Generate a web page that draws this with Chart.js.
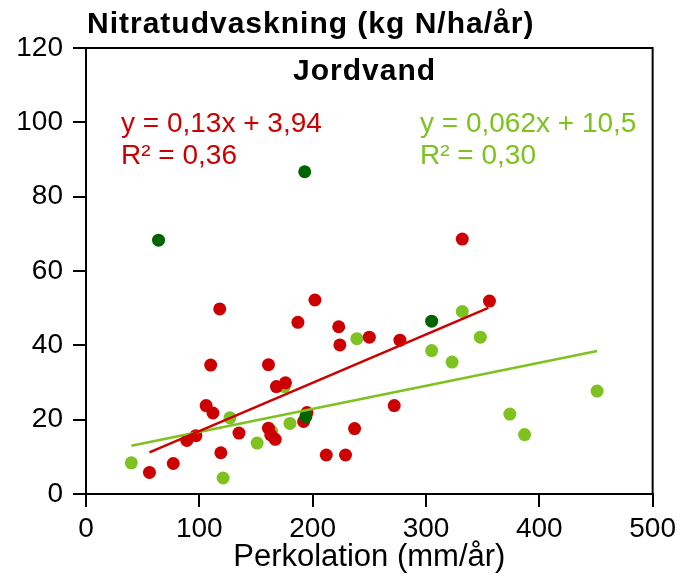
<!DOCTYPE html>
<html>
<head>
<meta charset="utf-8">
<script src="https://cdn.jsdelivr.net/npm/chart.js@4"></script>
<style>
  html, body { margin: 0; padding: 0; background: #fff; }
  #wrap { width: 681px; height: 576px; }
</style>
</head>
<body>
<div id="wrap"><canvas id="c" width="681" height="576"></canvas></div>
<script>
// values (x = perkolation mm/år, y = kg N/ha/år)
const redX = [118, 202, 187, 223, 224, 250, 110, 161, 168, 176, 106, 112, 195, 192, 89, 97, 135, 161, 163, 167, 119, 77, 56, 212, 229, 237, 277, 356, 272, 332];
const redY = [49.8, 52.2, 46.2, 45, 40.1, 42.2, 34.7, 34.8, 28.9, 29.9, 23.8, 21.8, 21.9, 19.5, 14.4, 15.7, 16.4, 17.7, 15.9, 14.7, 11.1, 8.2, 5.8, 10.5, 10.5, 17.6, 41.4, 51.9, 23.8, 68.6];

const lightX = [40, 121, 127, 151, 180, 164, 175, 239, 332, 348, 305, 323, 451, 374, 387];
const lightY = [8.4, 4.3, 20.5, 13.7, 19, 16.8, 28.9, 41.8, 49.1, 42.2, 38.6, 35.5, 27.7, 21.5, 16];

const darkX = [305, 194, 193, 64];
const darkY = [46.5, 20.8, 86.7, 68.3];

// trend line end points
const redTrendX = [56, 355];
const redTrendY = [11.2, 50.1];
const lightTrendX = [40, 451];
const lightTrendY = [13, 38.5];

const xTicks = [0, 100, 200, 300, 400, 500];
const yTicks = [0, 20, 40, 60, 80, 100, 120];

const RED = '#CC0000';
const LIGHT = '#7DC21E';
const DARK = '#006400';
const FONT = '"Liberation Sans", Arial, sans-serif';

function pts(xs, ys) {
  return xs.map((x, i) => ({ x: x, y: ys[i] }));
}

// text labels and the box round the plot
const extras = {
  id: 'extras',
  afterDraw(chart) {
    const ctx = chart.ctx;
    const a = chart.chartArea;
    ctx.save();
    ctx.strokeStyle = '#000';
    ctx.lineWidth = 2;
    ctx.strokeRect(a.left, a.top, a.right - a.left, a.bottom - a.top);

    ctx.textBaseline = 'alphabetic';
    ctx.fillStyle = '#000';
    ctx.font = 'bold 30px ' + FONT;
    ctx.letterSpacing = '1px';
    ctx.textAlign = 'left';
    ctx.fillText('Nitratudvaskning (kg N/ha/år)', 87, 33);
    ctx.fillText('Jordvand', 293, 80);
    ctx.letterSpacing = '0px';

    ctx.font = '28px ' + FONT;
    ctx.fillStyle = RED;
    ctx.fillText('y = 0,13x + 3,94', 121, 132);
    ctx.fillText('R² = 0,36', 121, 164);
    ctx.fillStyle = LIGHT;
    ctx.fillText('y = 0,062x + 10,5', 420, 132);
    ctx.fillText('R² = 0,30', 420, 164);
    ctx.restore();
  }
};

new Chart(document.getElementById('c'), {
  type: 'scatter',
  data: {
    datasets: [
      {
        data: pts(redTrendX, redTrendY),
        showLine: true,
        borderColor: RED,
        borderWidth: 2.5,
        pointRadius: 0,
        order: 0
      },
      {
        data: pts(lightTrendX, lightTrendY),
        showLine: true,
        borderColor: LIGHT,
        borderWidth: 2.5,
        pointRadius: 0,
        order: 0
      },
      {
        data: pts(darkX, darkY),
        backgroundColor: DARK,
        borderWidth: 0,
        pointRadius: 6.5,
        order: 1
      },
      {
        data: pts(redX, redY),
        backgroundColor: RED,
        borderWidth: 0,
        pointRadius: 6.5,
        order: 2
      },
      {
        data: pts(lightX, lightY),
        backgroundColor: LIGHT,
        borderWidth: 0,
        pointRadius: 6.5,
        order: 3
      }
    ]
  },
  options: {
    responsive: false,
    animation: false,
    layout: { padding: { top: 48, right: 27, left: 0, bottom: 0 } },
    plugins: {
      legend: { display: false },
      tooltip: { enabled: false }
    },
    scales: {
      x: {
        type: 'linear',
        min: 0,
        max: 500,
        afterFit(scale) { scale.height = 82; },
        afterBuildTicks(scale) { scale.ticks = xTicks.map(v => ({ value: v })); },
        ticks: {
          color: '#000',
          font: { family: FONT, size: 28 },
          padding: 5,
          maxRotation: 0
        },
        grid: { drawOnChartArea: false, tickLength: 13, color: '#000', lineWidth: 2 },
        border: { color: '#000', width: 2 },
        title: {
          display: true,
          text: 'Perkolation (mm/år)',
          color: '#000',
          font: { family: FONT, size: 31 },
          padding: { top: 0, bottom: 0 }
        }
      },
      y: {
        type: 'linear',
        min: 0,
        max: 120,
        afterFit(scale) { scale.width = 86; },
        afterBuildTicks(scale) { scale.ticks = yTicks.map(v => ({ value: v })); },
        ticks: {
          color: '#000',
          font: { family: FONT, size: 28 },
          padding: 10
        },
        grid: { drawOnChartArea: false, tickLength: 13, color: '#000', lineWidth: 2 },
        border: { color: '#000', width: 2 }
      }
    }
  },
  plugins: [extras]
});
</script>
</body>
</html>
